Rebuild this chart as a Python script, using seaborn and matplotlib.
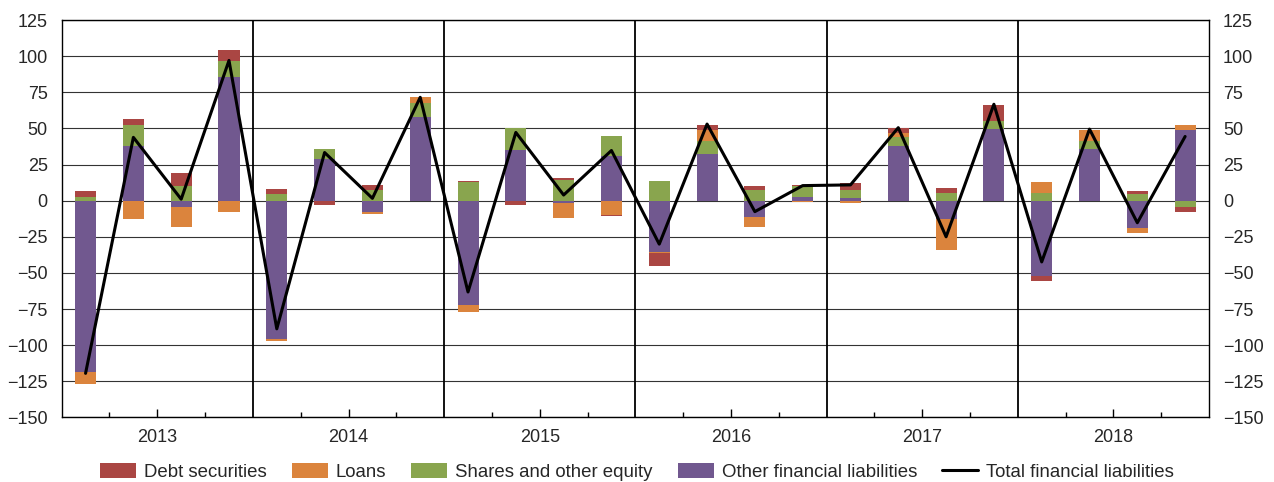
import numpy as np
import pandas as pd
import matplotlib
matplotlib.use("Agg")
import matplotlib.pyplot as plt
import seaborn as sns
from matplotlib.patches import Patch
from matplotlib.lines import Line2D

years = ["2013", "2014", "2015", "2016", "2017", "2018"]
quarters = [f"{y}Q{q}" for y in years for q in range(1, 5)]

debt = [4.2, 4.2, 9.0, 7.6, 3.5, -2.5, 3.5, -0.5, 0.7, -2.8, 1.4, -0.7,
        -9.0, 3.9, 3.0, 0.5, 4.9, 3.5, 3.5, 11.1, -3.5, 0.0, 2.1, -3.5]
loans = [-8.0, -12.7, -13.7, -7.9, -1.4, -0.5, -1.4, 4.2, -4.6, 0.0, -10.2, -9.7,
         -0.7, 7.2, -6.7, -0.7, -1.4, 3.2, -21.3, 0.0, 7.6, 7.6, -3.2, 3.5]
shares = [2.5, 14.6, 10.2, 10.4, 4.7, 6.9, 7.4, 9.7, 13.0, 14.8, 14.4, 13.9,
          13.9, 9.0, 7.4, 7.6, 5.3, 6.3, 5.3, 5.6, 5.3, 5.6, 4.6, -4.2]
other = [-118.8, 38.0, -4.4, 85.9, -95.8, 28.9, -7.9, 58.1, -72.4, 35.2, -1.6, 31.0,
         -35.2, 32.4, -11.3, 2.8, 2.1, 37.5, -12.7, 49.8, -51.9, 35.9, -19.0, 49.1]
total = [-119.5, 43.8, 1.0, 97.0, -88.7, 33.3, 1.6, 71.5, -63.2, 47.2, 3.9, 34.7,
         -30.1, 53.0, -7.6, 10.4, 10.9, 50.5, -25.0, 66.7, -42.4, 49.5, -15.3, 44.4]

series_names = ["Debt securities", "Loans", "Shares and other equity", "Other financial liabilities"]
colors = {"Debt securities": "#AA4643", "Loans": "#DB843D",
          "Shares and other equity": "#89A54E", "Other financial liabilities": "#71588F"}
series_vals = {"Debt securities": debt, "Loans": loans,
               "Shares and other equity": shares, "Other financial liabilities": other}
stack_order = ["Other financial liabilities", "Shares and other equity", "Loans", "Debt securities"]

sns.set_theme(style="white")
plt.rcParams["font.family"] = ["Liberation Sans", "DejaVu Sans"]

fig, ax = plt.subplots(figsize=(12.74, 4.82), dpi=100)
fig.subplots_adjust(left=0.0484, right=0.949, top=0.9585, bottom=0.134)

x = np.arange(len(quarters))
pos_base = np.zeros(len(x))
neg_base = np.zeros(len(x))
width = 0.44
for name in stack_order:
    v = np.array(series_vals[name])
    bottoms = np.where(v >= 0, pos_base, neg_base)
    ax.bar(x, v, width=width, bottom=bottoms, color=colors[name], linewidth=0, zorder=2)
    pos_base = pos_base + np.where(v > 0, v, 0)
    neg_base = neg_base + np.where(v < 0, v, 0)

df = pd.DataFrame({"x": x, "total": total})
sns.lineplot(data=df, x="x", y="total", color="black", linewidth=2.2, ax=ax, zorder=4)

ax.set_xlim(-0.5, len(x) - 0.5)
ax.set_ylim(-150, 125)
ax.set_yticks(np.arange(-150, 126, 25))
ax.yaxis.grid(True, color="#333333", linewidth=0.8)
ax.set_axisbelow(True)

for b in np.arange(3.5, len(x) - 1, 4):
    ax.axvline(b, color="black", linewidth=1.3, zorder=3)

ax.set_xticks(np.arange(1.5, len(x), 4))
ax.set_xticklabels(years)
ax.set_xticks([i + 0.5 for i in range(len(x) - 1) if (i % 4) in (0, 2)], minor=True)
ax.tick_params(axis="x", which="major", direction="in", length=6, width=1, color="black",
               pad=8, labelsize=13, bottom=True)
ax.tick_params(axis="x", which="minor", direction="in", length=3.5, width=1, color="black",
               bottom=True)
ax.tick_params(axis="y", which="both", length=0, labelsize=13, labelleft=True,
               labelright=True, pad=10)
ax.set_xlabel("")
ax.set_ylabel("")

for s in ax.spines.values():
    s.set_visible(True)
    s.set_color("black")
    s.set_linewidth(1.0)

handles = [Patch(facecolor=colors[n], edgecolor="none") for n in series_names]
handles.append(Line2D([0], [0], color="black", linewidth=2.2))
labels = series_names + ["Total financial liabilities"]
fig.legend(handles, labels, loc="center", bbox_to_anchor=(0.5, 0.021), ncol=5,
           frameon=False, fontsize=13.4, handlelength=1.93, handleheight=0.9,
           handletextpad=0.43, columnspacing=1.35)

fig.savefig("out.png", dpi=100)
